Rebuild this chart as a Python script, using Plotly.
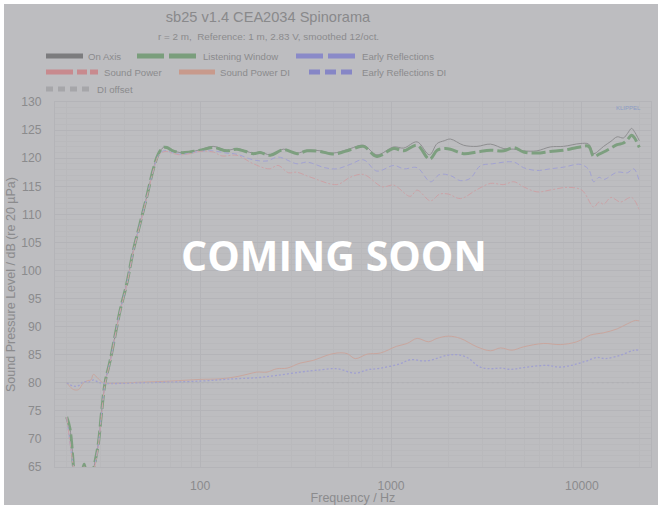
import plotly.graph_objects as go

# ---------------- data ----------------
freq_lw = [20, 20.8, 21.7, 22.5, 23.3, 24.7, 26.1, 27.8, 29.3, 30.4, 31.8, 33.8, 38.1, 41.3,
           44.7, 48.4, 52.5, 56.9, 60.5, 64.2, 66.9, 71, 78.5, 88.6,
           100, 117, 138, 156, 190, 206, 233, 273, 322, 363, 426, 480, 520, 612, 718, 843,
           1034, 1166, 1370, 1590, 1744, 1900, 2047, 2400, 2820, 3320, 3900, 4400, 4950,
           5810, 6830, 8020, 9790, 10850, 11530, 12300, 13000, 14200, 15300, 16500, 17330,
           18200, 18780, 20000]
spl_lw = [73.9, 71.8, 65.0, 58.0, 60.0, 65.5, 60.0, 65.0, 69.2, 74.5, 80.1, 84.0, 92.9, 97.7,
          103.6, 108.3, 113.1, 118.1, 120.8, 121.9, 121.9, 121.4, 121.0, 121.1,
          121.4, 121.9, 121.3, 121.6, 120.8, 121.0, 120.5, 121.5, 120.8, 121.3, 121.2, 120.8, 120.8, 121.5, 122.1, 120.3,
          121.7, 121.3, 122.3, 119.8, 121.4, 121.7, 121.6, 120.8, 121.1, 121.4, 121.3, 121.9, 121.1,
          120.9, 121.2, 121.4, 122.0, 122.1, 120.3, 120.7, 121.1, 121.8, 122.4, 122.7, 123.3,
          124.1, 123.7, 121.9]
spl_on = [73.9, 71.8, 65.0, 58.0, 60.0, 65.5, 60.0, 65.0, 69.2, 74.5, 80.1, 84.0, 92.9, 97.7,
          103.6, 108.3, 113.1, 118.1, 120.8, 121.9, 121.9, 121.4, 121.0, 121.1,
          121.5, 122.1, 121.4, 121.7, 120.9, 121.1, 120.6, 121.6, 120.9, 121.4, 121.3, 120.9, 121.0, 121.7, 122.3, 120.6,
          122.0, 121.8, 122.9, 120.6, 122.6, 123.1, 123.4, 122.3, 122.1, 122.5, 121.7, 121.6, 121.3,
          121.3, 122.0, 122.1, 122.6, 122.5, 120.8, 121.4, 122.1, 123.0, 123.8, 123.6, 124.4,
          125.3, 124.8, 123.1]

freq_er = [20, 21.7, 23.3, 24.7, 26.1, 27.8, 29.3, 30.4, 31.8, 33.8, 38.1, 41.3, 44.7, 48.4,
           52.5, 56.9, 60.5, 64.2, 66.9, 71, 78.5, 88.6,
           100, 117, 138, 156, 190, 224, 256, 322, 363, 450, 520, 612, 718, 843, 1034, 1166,
           1370, 1610, 1800, 2047, 2310, 2600, 2930, 3400, 4400, 4950, 5810, 6830, 8020, 9790,
           10850, 11530, 12300, 13000, 15300, 17300, 18700, 20000]
spl_er = [73.9, 65.0, 59.5, 65.0, 59.8, 64.5, 69.0, 74.3, 80.0, 83.9, 92.8, 97.6, 103.5, 108.2,
          113.0, 117.9, 120.5, 121.3, 121.3, 121.0, 120.7, 120.9,
          121.2, 121.3, 120.9, 120.7, 119.7, 119.5, 120.2, 119.0, 119.3, 118.3, 118.1, 118.9, 119.7, 117.7, 118.7, 118.1,
          118.3, 115.8, 117.1, 116.9, 116.0, 116.4, 118.6, 119.0, 119.3, 118.3, 117.8, 118.1, 118.4, 118.9,
          118.0, 115.8, 116.6, 116.2, 117.5, 117.4, 118.1, 115.8]

freq_sp = [20, 21.7, 23.3, 24.7, 26.1, 27.8, 29.3, 30.4, 31.8, 33.8, 38.1, 41.3, 44.7, 48.4,
           52.5, 56.9, 60.5, 64.2, 66.9, 71, 78.5, 88.6,
           100, 117, 130, 156, 190, 230, 256, 290, 320, 380, 520, 612, 718, 900, 1034, 1260,
           1370, 1610, 1800, 2000, 2310, 2820, 3320, 3900, 4400, 4950, 5810, 7000, 8400, 10000,
           11530, 12300, 13000, 14200, 15900, 18200, 20000]
spl_sp = [73.9, 65.0, 59.2, 65.1, 59.5, 64.3, 68.8, 74.1, 79.9, 83.8, 92.7, 97.5, 103.4, 108.1,
          112.9, 117.8, 120.4, 121.1, 121.2, 120.9, 120.6, 120.8,
          121.2, 121.1, 120.4, 120.5, 119.0, 118.1, 118.7, 117.4, 117.5, 116.6, 115.3, 116.6, 117.1, 114.9, 115.2, 113.2,
          114.3, 112.4, 113.6, 113.6, 112.8, 114.4, 115.5, 115.3, 115.8, 114.9, 114.0, 114.4, 114.8, 114.3,
          111.3, 112.2, 111.8, 113.0, 112.2, 113.0, 110.7]

freq_spdi = [20, 21.7, 23.1, 24.5, 25.9, 26.8, 27.6, 29.3, 31.1, 35, 48.4, 70,
             100, 127, 156, 176, 198, 224, 252, 285, 334, 393, 462, 521, 588, 650, 750, 880,
             1070, 1215, 1370, 1575, 1740, 2000, 2310, 2820, 3320, 3750, 4300, 4950, 6300, 7700,
             9400, 11100, 13000, 15300, 17300, 19100, 20000]
spl_spdi = [80.0, 78.8, 78.8, 80.0, 80.4, 80.5, 81.5, 80.7, 80.0, 79.9, 80.1, 80.3,
            80.6, 80.7, 81.1, 81.5, 81.9, 81.9, 82.5, 82.6, 83.5, 84.0, 84.9, 85.3, 85.2, 84.3, 85.1, 85.3,
            86.5, 87.0, 87.9, 87.3, 87.9, 88.3, 87.9, 86.4, 85.7, 86.2, 85.8, 86.4, 87.0, 86.8,
            87.3, 88.5, 88.9, 89.6, 90.5, 91.1, 91.0]

freq_erdi = [20, 21.7, 23.1, 24.5, 26, 27.6, 29.3, 31.1, 50,
             100, 149, 198, 252, 334, 400, 521, 650, 750, 880, 1118, 1260, 1540, 1970, 2220,
             2500, 2930, 3320, 3750, 4250, 4950, 6580, 7600, 8800, 10400, 12000, 13300, 15900,
             18800, 20000]
spl_erdi = [80.0, 79.4, 79.5, 80.2, 80.1, 80.5, 80.1, 79.9, 80.0,
            80.3, 80.7, 80.9, 81.3, 81.9, 82.2, 82.5, 81.7, 82.3, 82.6, 83.4, 84.1, 83.9, 84.9, 85.0,
            84.5, 82.8, 82.5, 82.6, 82.4, 82.7, 83.1, 82.8, 83.1, 83.8, 84.5, 84.3, 84.9,
            85.8, 85.8]

freq_dioff = [20, 20000]
spl_dioff = [80, 80]

x_tickvals = [100, 1000, 10000]
x_ticktext = ["100", "1000", "10000"]

# ---------------- styling ----------------
BG = "#bdbdc0"
TXT = "#8b8b8d"
GRID = "#b4b4b8"
GRID_MINOR = "#b9b9bc"
FONT = "Liberation Sans, Arial, sans-serif"

series = [
    # name, x, y, line color, width, dash, legend color, legend dash
    ("On Axis", freq_lw, spl_on, "#8e8e90", 1.0, "solid", "#7c7c7e", "solid"),
    ("Listening Window", freq_lw, spl_lw, "#7d9f7f", 3.0, "14px,4px", "#7a9e7c", "27px,5px"),
    ("Early Reflections", freq_er, spl_er, "#a2a2d2", 1.0, "5px,3px", "#8a8ac8", "27px,5px"),
    ("Sound Power", freq_sp, spl_sp, "#cca2a6", 1.0, "6px,2px,2px,2px", "#c88a8e", "27px,4px,10px,3px,8px,3px"),
    ("Sound Power DI", freq_spdi, spl_spdi, "#c9a69e", 1.0, "solid", "#c89a8c", "solid"),
    ("Early Reflections DI", freq_erdi, spl_erdi, "#a0a0d0", 1.3, "2px,2px", "#8686c6", "11px,5px"),
    ("DI offset", freq_dioff, spl_dioff, "#b0b0b3", 1.2, "2px,3px", "#a6a6a9", "7px,5px"),
]

# legend placement in page pixels: (symbol start, row centre, text start)
leg_pos = [(45, 56, 88), (136, 56, 203), (295, 56, 362),
           (45, 72, 104), (178, 72, 220), (308, 72, 362),
           (45, 89, 97)]

OFF = 4                      # page margin around the figure
W, H = 662 - 2 * OFF, 509 - 2 * OFF
PL, PR, PT, PB = 55, 651, 102, 467   # plot area in page pixels
ML, MT = PL - OFF, PT - OFF
MR, MB = W - (PR - OFF), H - (PB - OFF)
PW, PH = PR - PL, PB - PT


def px_x(px):
    return (px - PL) / PW


def px_y(py):
    return 1 - (py - PT) / PH


fig = go.Figure()
layout_legends = {}
for i, (name, xs, ys, col, wd, dash, lcol, ldash) in enumerate(series):
    lname = "legend" if i == 0 else f"legend{i+1}"
    fig.add_trace(go.Scatter(x=xs, y=ys, mode="lines", name=name, legendgroup=name,
                             showlegend=False, line=dict(color=col, width=wd, dash=dash),
                             line_shape="spline", hoverinfo="x+y+name"))
    fig.add_trace(go.Scatter(x=[None], y=[None], mode="lines", name=name, legendgroup=name,
                             legend=lname, showlegend=True,
                             line=dict(color=lcol, width=5, dash=ldash)))
    sx, cy, tx = leg_pos[i]
    layout_legends[lname] = dict(
        x=px_x(sx - 4), xanchor="left",
        y=px_y(cy), yanchor="middle",
        orientation="h", bgcolor="rgba(0,0,0,0)",
        font=dict(family=FONT, size=9.6, color=TXT),
        itemwidth=max(30, tx - sx - 6), tracegroupgap=0,
    )

fig.update_layout(**layout_legends)

fig.update_layout(
    width=W, height=H,
    margin=dict(l=ML, r=MR, t=MT, b=MB, autoexpand=False),
    paper_bgcolor=BG, plot_bgcolor=BG,
    font=dict(family=FONT, size=12, color=TXT),
    title=dict(text="sb25 v1.4 CEA2034 Spinorama", x=(268 - OFF) / W, xanchor="center", xref="container",
               y=1 - (17 - OFF) / H, yanchor="middle", yref="container",
               font=dict(family=FONT, size=14.6, color="#89898b")),
    xaxis=dict(type="log", range=[1.2397, 4.362],
               tickmode="array", tickvals=x_tickvals, ticktext=x_ticktext,
               showgrid=True, gridcolor=GRID, gridwidth=1,
               minor=dict(dtick="D1", showgrid=True, gridcolor=GRID_MINOR, gridwidth=1),
               zeroline=False, showline=True, linecolor=GRID, mirror=True,
               ticks="", ticklabelstandoff=7,
               tickfont=dict(family=FONT, size=12.2, color=TXT),
               title=dict(text="Frequency / Hz", standoff=1,
                          font=dict(family=FONT, size=12.5, color=TXT))),
    yaxis=dict(range=[65, 130], dtick=5, tick0=65,
               showgrid=True, gridcolor=GRID, gridwidth=1,
               minor=dict(dtick=1, showgrid=True, gridcolor=GRID_MINOR, gridwidth=1),
               zeroline=False, showline=True, linecolor=GRID, mirror=True,
               ticks="", ticklabelstandoff=10,
               tickfont=dict(family=FONT, size=12.2, color=TXT),
               title=dict(text="Sound Pressure Level / dB (re 20 µPa)", standoff=7,
                          font=dict(family=FONT, size=12.5, color=TXT))),
    showlegend=True,
)

fig.add_annotation(text="r = 2 m,  Reference: 1 m, 2.83 V, smoothed 12/oct.",
                   xref="paper", yref="paper", x=px_x(268), y=px_y(37),
                   xanchor="center", yanchor="middle", showarrow=False,
                   font=dict(family=FONT, size=9.9, color=TXT))
fig.add_annotation(text="KLIPPEL", xref="paper", yref="paper",
                   x=px_x(628), y=px_y(108), xanchor="center", yanchor="middle",
                   showarrow=False, font=dict(family=FONT, size=6, color="#8c9cc4"))
fig.add_annotation(text="<b>COMING SOON</b>", xref="paper", yref="paper",
                   x=px_x(334), y=px_y(255), xanchor="center", yanchor="middle",
                   showarrow=False, font=dict(family="Open Sans", size=41, color="#ffffff"))

fig.write_html("out.html", post_script="document.body.style.margin='%dpx';" % OFF)
